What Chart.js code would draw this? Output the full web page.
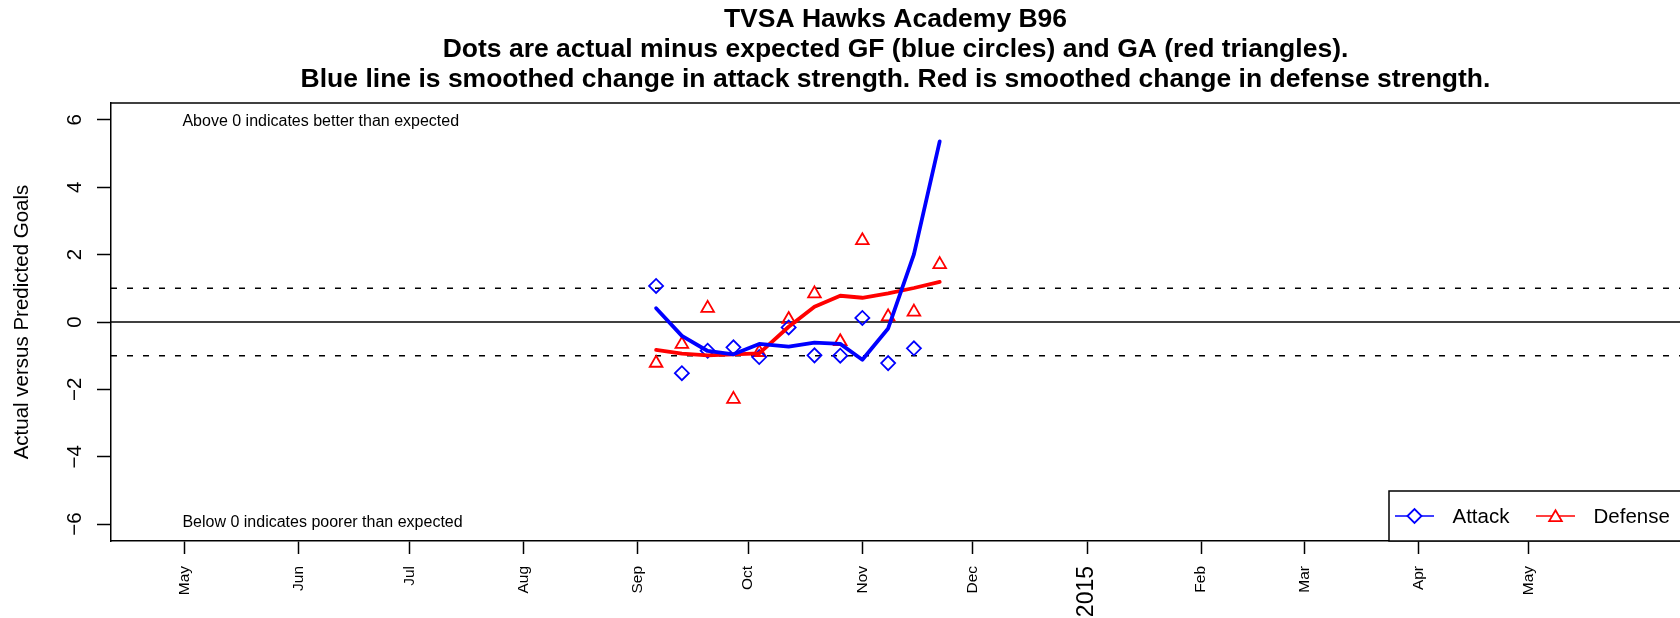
<!DOCTYPE html>
<html>
<head>
<meta charset="utf-8">
<title>TVSA Hawks Academy B96</title>
<script src="https://cdn.jsdelivr.net/npm/chart.js@4.4.1/dist/chart.umd.min.js"></script>
<style>
    html, body { margin: 0; padding: 0; background: #fff; }
    #wrap { width: 1680px; height: 618px; }
</style>
</head>
<body>
<div id="wrap"><canvas id="chart" width="1680" height="618"></canvas></div>
<script>
'use strict';

// ── Data ──────────────────────────────────────────────────────────────────────
const gameDates     = ['2014-09-06', '2014-09-13', '2014-09-20', '2014-09-27', '2014-10-04', '2014-10-12',
                       '2014-10-19', '2014-10-26', '2014-11-01', '2014-11-08', '2014-11-15', '2014-11-22'];
const attackDiff    = [1.07, -1.52, -0.85, -0.75, -1.04, -0.16, -0.99, -1.00, 0.12, -1.22, -0.78, null];
const defenseDiff   = [-1.22, -0.66, 0.41, -2.29, -0.90, 0.08, 0.84, -0.58, 2.42, 0.16, 0.30, 1.71];
const attackSmooth  = [0.41, -0.41, -0.86, -0.96, -0.65, -0.73, -0.61, -0.65, -1.12, -0.19, 2.01, 5.36];
const defenseSmooth = [-0.83, -0.94, -0.99, -0.96, -0.93, -0.14, 0.45, 0.78, 0.72, 0.85, 1.01, 1.19];

const monthTicks  = ['2014-05-01', '2014-06-01', '2014-07-01', '2014-08-01', '2014-09-01', '2014-10-01', '2014-11-01',
                     '2014-12-01', '2015-01-01', '2015-02-01', '2015-03-01', '2015-04-01', '2015-05-01'];
const monthLabels = ['May', 'Jun', 'Jul', 'Aug', 'Sep', 'Oct', 'Nov', 'Dec', '2015', 'Feb', 'Mar', 'Apr', 'May'];
const yTicks      = [-6, -4, -2, 0, 2, 4, 6];
const xRange      = ['2014-04-11', '2015-06-11'];
const yRange      = [-6.5, 6.5];
const refLines    = [0, 1, -1];   // solid zero line, dashed +/-1

const titleLines = [
    'TVSA Hawks Academy B96',
    'Dots are actual minus expected GF (blue circles) and GA (red triangles).',
    'Blue line is smoothed change in attack strength. Red is smoothed change in defense strength.'
];
const noteAbove = 'Above 0 indicates better than expected';
const noteBelow = 'Below 0 indicates poorer than expected';

// ── Helpers ───────────────────────────────────────────────────────────────────
const FONT = '"Liberation Sans", Arial, Helvetica, sans-serif';
const DAY0 = Date.UTC(2014, 4, 1);
function toDay(s) {
    const [y, m, d] = s.split('-').map(Number);
    return (Date.UTC(y, m - 1, d) - DAY0) / 864e5;
}
const xy = vals => gameDates.map((d, i) => ({ x: toDay(d), y: vals[i] }));
const xMin = toDay(xRange[0]);
const xMax = toDay(xRange[1]);

const BLUE = '#0000ff';
const RED  = '#ff0000';

// ── Plugins: frame top, notes, R-style legend ─────────────────────────────────
const extras = {
    id: 'extras',
    afterDatasetsDraw(chart) {
        const { ctx, chartArea: a, scales: { x, y } } = chart;
        ctx.save();
        // top border of the plot box
        ctx.strokeStyle = '#000';
        ctx.lineWidth = 1.5;
        ctx.beginPath();
        ctx.moveTo(a.left, a.top);
        ctx.lineTo(a.right, a.top);
        ctx.stroke();

        // notes
        ctx.fillStyle = '#000';
        ctx.font = `16px ${FONT}`;
        ctx.textAlign = 'left';
        ctx.textBaseline = 'middle';
        const nx = x.getPixelForValue(-0.6);
        ctx.fillText(noteAbove, nx, y.getPixelForValue(5.94));
        ctx.fillText(noteBelow, nx, y.getPixelForValue(-5.94));

        // legend (bottom right, line + marker samples)
        const items = chart.data.datasets.filter(d => d.legendText);
        const bx = a.right - 291, by = a.bottom - 50;
        ctx.fillStyle = '#fff';
        ctx.fillRect(bx, by, 300, 50);
        ctx.strokeStyle = '#000';
        ctx.lineWidth = 1.5;
        ctx.strokeRect(bx, by, 300, 50);
        const cy = by + 25;
        ctx.font = `20.5px ${FONT}`;
        items.forEach((d, i) => {
            const x0 = bx + 6 + i * 141;
            ctx.strokeStyle = d.borderColor;
            ctx.lineWidth = 1.5;
            ctx.beginPath();
            ctx.moveTo(x0, cy);
            ctx.lineTo(x0 + 39, cy);
            ctx.stroke();
            ctx.fillStyle = '#fff';
            ctx.lineWidth = d.pointBorderWidth;
            Chart.helpers.drawPoint(ctx, {
                pointStyle: d.pointStyle, radius: d.pointRadius, rotation: 0, borderWidth: d.pointBorderWidth
            }, x0 + 19.5, d.pointStyle === 'triangle' ? cy + 1.5 : cy);
            ctx.fillStyle = '#000';
            ctx.fillText(d.legendText, x0 + 57.5, cy + 1);
        });
        ctx.restore();
    }
};

// ── Datasets ──────────────────────────────────────────────────────────────────
const datasets = [
    {   // smoothed attack (on top)
        data: xy(attackSmooth), borderColor: BLUE, borderWidth: 3.8, pointRadius: 0,
        borderCapStyle: 'round', borderJoinStyle: 'round', tension: 0
    },
    {   // smoothed defense
        data: xy(defenseSmooth), borderColor: RED, borderWidth: 3.8, pointRadius: 0,
        borderCapStyle: 'round', borderJoinStyle: 'round', tension: 0
    },
    {
        legendText: 'Attack',
        data: xy(attackDiff), showLine: false, borderColor: BLUE, backgroundColor: 'rgba(0,0,0,0)',
        pointStyle: 'rectRot', pointRadius: 7, pointBorderWidth: 1.8, pointBorderColor: BLUE,
        pointBackgroundColor: 'rgba(0,0,0,0)'
    },
    {
        legendText: 'Defense',
        data: xy(defenseDiff), showLine: false, borderColor: RED, backgroundColor: 'rgba(0,0,0,0)',
        pointStyle: 'triangle', pointRadius: 7.3, pointBorderWidth: 1.8, pointBorderColor: RED,
        pointBackgroundColor: 'rgba(0,0,0,0)'
    },
    ...refLines.map(v => ({
        data: [{ x: xMin, y: v }, { x: xMax, y: v }],
        borderColor: '#000', borderWidth: 1.5, pointRadius: 0,
        borderDash: v === 0 ? [] : [6, 10]
    }))
];

// ── Chart ─────────────────────────────────────────────────────────────────────
new Chart(document.getElementById('chart').getContext('2d'), {
    type: 'line',
    data: { datasets },
    plugins: [extras],
    options: {
        responsive: false,
        animation: false,
        devicePixelRatio: 1,
        layout: { padding: 0, autoPadding: false },
        spanGaps: false,
        plugins: {
            legend: { display: false },
            tooltip: { enabled: false },
            title: {
                display: true,
                fullSize: false,
                text: titleLines,
                color: '#000',
                font: { family: FONT, size: 26.5, weight: 'bold', lineHeight: 1.13 },
                padding: { top: 5, bottom: 8.2 }
            }
        },
        scales: {
            x: {
                type: 'linear',
                min: xMin,
                max: xMax,
                afterBuildTicks: s => { s.ticks = monthTicks.map(d => ({ value: toDay(d) })); },
                afterFit: s => { s.height = 77; s.paddingLeft = 0; s.paddingRight = 0; },
                ticks: {
                    autoSkip: false,
                    minRotation: 90,
                    maxRotation: 90,
                    padding: 12,
                    color: '#000',
                    font: c => ({ family: FONT, size: monthLabels[c.index] === '2015' ? 23 : 15.5 }),
                    callback: (v, i) => monthLabels[i]
                },
                grid: { drawOnChartArea: false, drawTicks: true, tickLength: 13, tickColor: '#000', tickWidth: 1.5 },
                border: { display: true, color: '#000', width: 1.5 }
            },
            y: {
                type: 'linear',
                min: yRange[0],
                max: yRange[1],
                afterBuildTicks: s => { s.ticks = yTicks.map(v => ({ value: v })); },
                afterFit: s => { s.width = 111; s.paddingTop = 0; s.paddingBottom = 0; },
                ticks: {
                    minRotation: 90,
                    maxRotation: 90,
                    crossAlign: 'center',
                    padding: 10,
                    color: '#000',
                    font: { family: FONT, size: 20.5 },
                    callback: v => (v < 0 ? '\u2212' + Math.abs(v) : String(v))
                },
                grid: { drawOnChartArea: false, drawTicks: true, tickLength: 14, tickColor: '#000', tickWidth: 1.5 },
                border: { display: true, color: '#000', width: 1.5 },
                title: {
                    display: true,
                    text: 'Actual versus Predicted Goals',
                    color: '#000',
                    font: { family: FONT, size: 20.5 },
                    padding: { top: 10.5, bottom: 0 }
                }
            }
        }
    }
});
</script>
</body>
</html>
